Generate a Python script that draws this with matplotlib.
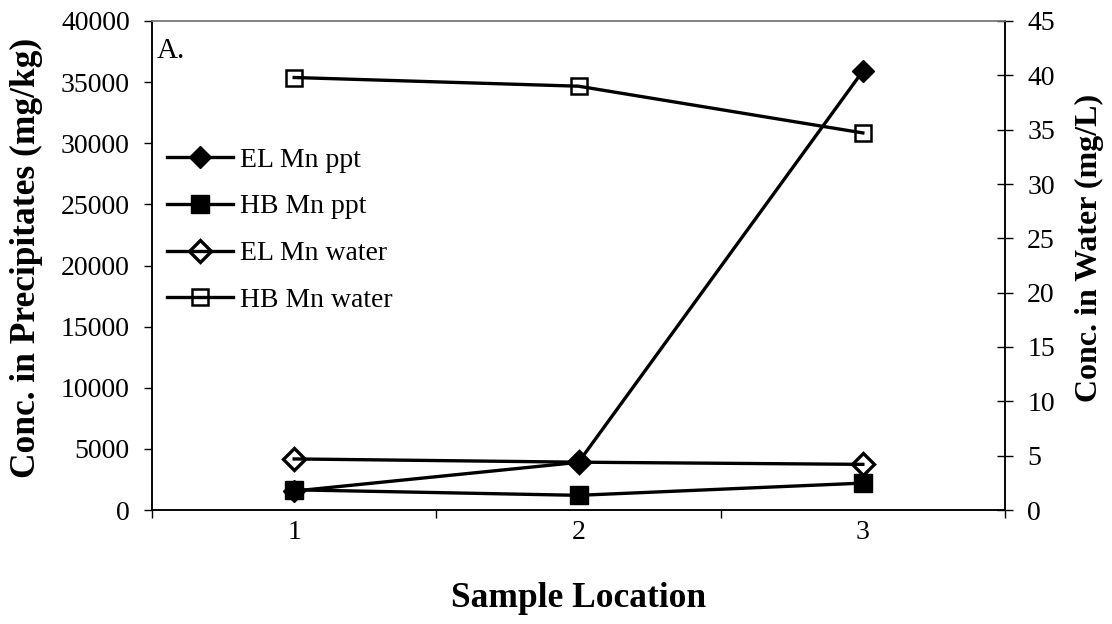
import matplotlib
matplotlib.use("Agg")
import matplotlib.pyplot as plt

plt.rcParams['font.family'] = ['Liberation Serif', 'DejaVu Serif']

# data
locations = [1, 2, 3]
tick_labels = ['1', '2', '3']
el_mn_ppt = [1550, 3900, 35900]     # mg/kg, left axis
hb_mn_ppt = [1650, 1200, 2200]      # mg/kg, left axis
el_mn_water = [4.7, 4.4, 4.2]       # mg/L, right axis
hb_mn_water = [39.8, 39.0, 34.7]    # mg/L, right axis

fig = plt.figure(figsize=(11.12, 6.24), dpi=100)
ax = fig.add_axes([152/1112, 1 - 510/624, (1005 - 152)/1112, (510 - 21)/624])
ax2 = ax.twinx()

lw = 2.4
h1, = ax.plot(locations, el_mn_ppt, color='black', lw=lw, marker='D', ms=11,
              mfc='black', mec='black', label='EL Mn ppt', zorder=4)
h2, = ax.plot(locations, hb_mn_ppt, color='black', lw=lw, marker='s', ms=13,
              mfc='black', mec='black', label='HB Mn ppt', zorder=3)
h3, = ax2.plot(locations, el_mn_water, color='black', lw=lw, marker='D', ms=11,
               mfc='none', mec='black', mew=2.4, label='EL Mn water')
h4, = ax2.plot(locations, hb_mn_water, color='black', lw=lw, marker='s', ms=12,
               mfc='none', mec='black', mew=1.8, label='HB Mn water')

ax.set_xlim(0.5, 3.5)
ax.set_ylim(0, 40000)
ax2.set_ylim(0, 45)
ax.set_yticks(range(0, 40001, 5000))
ax2.set_yticks(range(0, 46, 5))

# category axis: ticks sit between categories, labels on categories
ax.set_xticks([0.5, 1.5, 2.5, 3.5])
ax.set_xticklabels([])
ax.set_xticks(locations, minor=True)
ax.set_xticklabels(tick_labels, minor=True)
ax.tick_params(axis='x', which='major', direction='out', length=6, width=1)
ax.tick_params(axis='x', which='minor', length=0, pad=7, labelsize=20)
ax.tick_params(axis='y', direction='out', length=6, width=1, pad=10, labelsize=20)
ax2.tick_params(axis='y', direction='inout', length=12, width=1, pad=10, labelsize=20)

for a in (ax, ax2):
    for s in a.spines.values():
        s.set_linewidth(1.1)
    a.spines['top'].set_color('#808080')

ax.set_xlabel('Sample Location', fontsize=25.5, fontweight='bold')
ax.xaxis.set_label_coords(0.5, -0.148)
ax.set_ylabel('Conc. in Precipitates (mg/kg)', fontsize=25.5, fontweight='bold')
ax.yaxis.set_label_coords(-0.128, 0.515)
ax2.set_ylabel('Conc. in Water (mg/L)', fontsize=23, fontweight='bold')
ax2.yaxis.set_label_coords(1.082, 0.536)

ax.text(0.006, 0.965, 'A.', transform=ax.transAxes, fontsize=21, va='top', ha='left')

ax2.legend(handles=[h1, h2, h3, h4], loc='upper left', bbox_to_anchor=(0.017, 0.742),
           frameon=False, fontsize=20, handlelength=2.4, handletextpad=0.25,
           labelspacing=0.77, borderpad=0, borderaxespad=0)

fig.savefig('out.png', dpi=100)
